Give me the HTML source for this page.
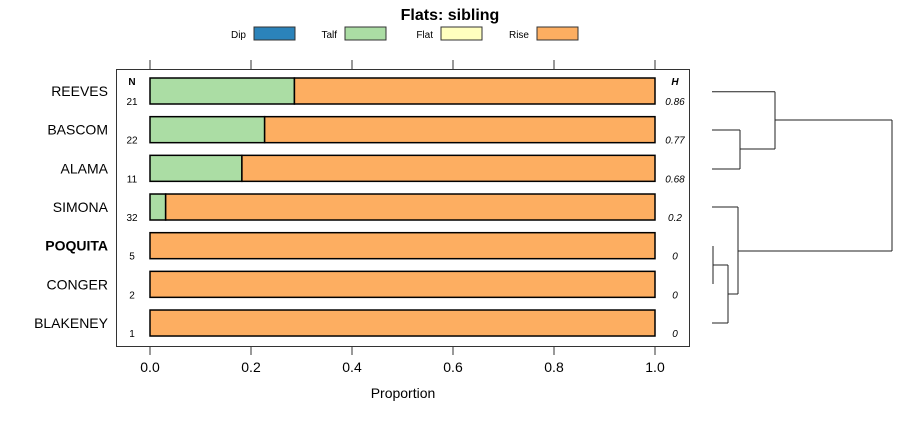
<!DOCTYPE html>
<html><head><meta charset="utf-8"><style>
body{margin:0;background:#fff;font-family:"Liberation Sans",sans-serif}
</style></head><body>
<svg id="c" width="900" height="420" xmlns="http://www.w3.org/2000/svg" font-family="Liberation Sans, sans-serif"></svg>
<script>
const categories=["REEVES","BASCOM","ALAMA","SIMONA","POQUITA","CONGER","BLAKENEY"];
const counts=[21,22,11,32,5,2,1];
const hvals=["0.86","0.77","0.68","0.2","0","0","0"];
const dip=[0,0,0,0,0,0,0];
const talf=[0.286,0.227,0.182,0.031,0,0,0];
const flat=[0,0,0,0,0,0,0];
const rise=[0.714,0.773,0.818,0.969,1,1,1];
const ticks=[0,0.2,0.4,0.6,0.8,1.0];
const tickLabels=["0.0","0.2","0.4","0.6","0.8","1.0"];
const seriesNames=["Dip","Talf","Flat","Rise"];
const colors=["#2b83ba","#abdda4","#ffffbf","#fdae61"];
const svg=document.getElementById('c');const NS="http://www.w3.org/2000/svg";
function mk(t,a,txt,name){const e=document.createElementNS(NS,t);for(const k in a)e.setAttribute(k,a[k]);if(txt!==undefined)e.textContent=txt;


svg.appendChild(e);return e;}
const x=v=>150+v*505;const y=i=>91+i*38.67;
mk('text',{x:450,y:20,'text-anchor':'middle','font-size':16,'font-weight':'bold'},'Flats: sibling','chart-title');
const lx=[[236,254],[318,345],[413,441],[500,537]];
seriesNames.forEach((s,k)=>{mk('text',{x:lx[k][1]-8,y:38,'text-anchor':'end','font-size':10},s,'legend-label-'+s.toLowerCase());
mk('rect',{x:lx[k][1],y:27,width:41,height:13,fill:colors[k],stroke:'#333','stroke-width':1},undefined,'legend-swatch-'+s.toLowerCase());});
mk('rect',{x:116.5,y:69.5,width:573,height:277,fill:'none',stroke:'#333'},undefined,'panel-border');
ticks.forEach((t,k)=>{mk('line',{x1:x(t),x2:x(t),y1:60,y2:69,stroke:'#333'},undefined,'top-tick');
mk('line',{x1:x(t),x2:x(t),y1:346,y2:355,stroke:'#333'},undefined,'bottom-tick');
mk('text',{x:x(t),y:372,'text-anchor':'middle','font-size':14},tickLabels[k],'x-tick-label');});
mk('text',{x:403,y:398,'text-anchor':'middle','font-size':14},'Proportion','x-axis-title');
mk('text',{x:132,y:85,'text-anchor':'middle','font-size':10,'font-weight':'bold'},'N','n-header');
mk('text',{x:675,y:85,'text-anchor':'middle','font-size':10,'font-weight':'bold','font-style':'italic'},'H','h-header');
categories.forEach((c,i)=>{const cy=y(i);
mk('text',{x:108,y:cy+5,'text-anchor':'end','font-size':14,'font-weight':c==='POQUITA'?'bold':'normal'},c,'row-label');
mk('text',{x:132,y:cy+14,'text-anchor':'middle','font-size':10},String(counts[i]),'n-value');
mk('text',{x:675,y:cy+14,'text-anchor':'middle','font-size':10,'font-style':'italic'},hvals[i],'h-value');
let acc=0;[dip,talf,flat,rise].forEach((s,k)=>{const v=s[i];if(v>0){mk('rect',{x:x(acc),y:cy-13,width:x(acc+v)-x(acc),height:26,fill:colors[k],stroke:'#000','stroke-width':1.5},undefined,'bar-'+seriesNames[k].toLowerCase());}acc+=v;});
});
const d="M712,91.7H775M712,130H740M712,169H740M740,130V169M740,149H775M775,91.7V149M775,120H892M892,120V251M712,207H738M713,246V284M713,265H728M712,323H728M728,265V323M728,294H738M738,207V294M738,251H892";
mk('path',{d:d,fill:'none',stroke:'#222','stroke-width':1},undefined,'dendrogram');
</script>
</body></html>
